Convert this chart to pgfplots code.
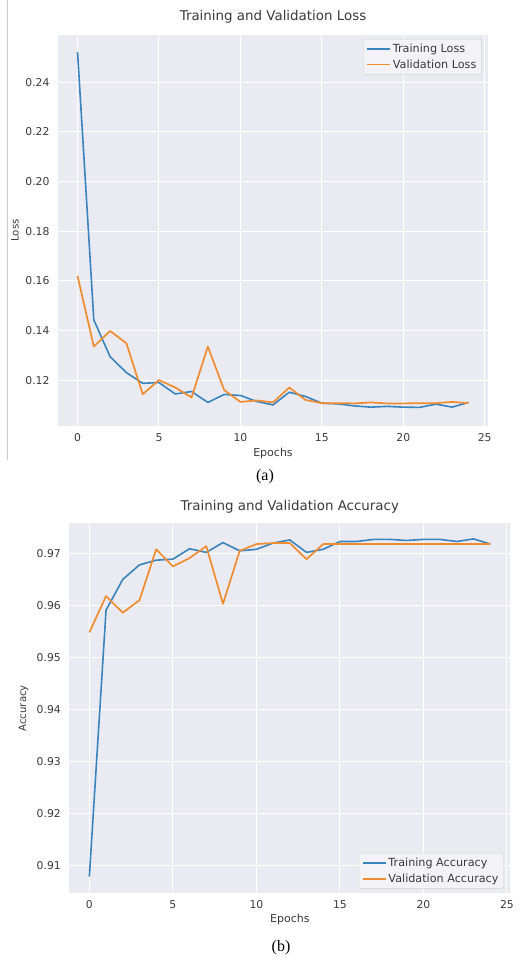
\documentclass[border=0pt]{standalone}
\usepackage{fontspec}
\setmainfont{DejaVu Sans}
\newfontfamily\capfont{Liberation Serif}
\usepackage{pgfplots}
\pgfplotsset{compat=1.18}

\definecolor{bgc}{HTML}{EAEAF2}
\definecolor{txt}{HTML}{3A3A3A}
\definecolor{tblue}{HTML}{3A84BE}
\definecolor{torange}{HTML}{F08C30}

\pgfplotsset{
  sea/.style={
    scale only axis,
    axis background/.style={fill=bgc},
    axis line style={draw=none},
    grid=major,
    major grid style={white, line width=1pt},
    major tick length=0pt,
    tick label style={font=\fontsize{10.8}{12}\selectfont, text=txt},
    /pgf/number format/assume math mode=true,
    xmin=-1.2, xmax=25.2,
    xtick={0,5,...,25},
    xticklabel style={yshift=-4pt},
    yticklabel style={xshift=-5pt, /pgf/number format/.cd, fixed, fixed zerofill, precision=2},
    label style={text=txt},
    xlabel={Epochs},
    xlabel style={font=\fontsize{11}{12}\selectfont},
    ylabel style={font=\fontsize{10.2}{12}\selectfont},
    title style={font=\fontsize{13.4}{15}\selectfont, text=txt},
    legend cell align=left,
    legend style={font=\fontsize{11.2}{13}\selectfont, text=txt, fill=bgc!60!white,
      draw=gray!35, rounded corners=1.5pt, row sep=1.5pt, inner sep=3pt},
    legend image code/.code={\draw[#1] (0cm,0cm) -- (0.8cm,0cm);},
  }
}

\begin{document}
\begin{tikzpicture}
\useasboundingbox (0pt,0pt) rectangle (531pt,-961pt);
\draw[gray!40, line width=0.8pt] (7pt,0pt) -- (7pt,-460pt);

% (a) loss
\begin{axis}[sea,
  at={(58pt,-426pt)}, anchor=south west,
  width=430pt, height=391pt,
  ymin=0.1015, ymax=0.2590,
  ytick={0.12,0.14,...,0.241},
  title={Training and Validation Loss},
  title style={at={(0.5,1)}, anchor=center, yshift=12pt},
  xlabel style={at={(0.5,0)}, anchor=center, yshift=-27pt},
  ylabel={Loss},
  ylabel style={at={(-0.1,0.5)}, anchor=center},
  legend style={at={(0.985,0.99)}, anchor=north east},
]
\addplot[tblue, line width=1.6pt, line join=round] coordinates {
(0,0.2521) (1,0.1442) (2,0.1294) (3,0.1230) (4,0.1187) (5,0.1190)
(6,0.1144) (7,0.1154) (8,0.1110) (9,0.1142) (10,0.1138) (11,0.1114)
(12,0.1100) (13,0.1151) (14,0.1134) (15,0.1107) (16,0.1104) (17,0.1096)
(18,0.1091) (19,0.1094) (20,0.1091) (21,0.1090) (22,0.1103) (23,0.1091) (24,0.1110)
};
\addplot[torange, line width=1.7pt, line join=round] coordinates {
(0,0.1619) (1,0.1335) (2,0.1398) (3,0.1348) (4,0.1143) (5,0.1200)
(6,0.1170) (7,0.1130) (8,0.1335) (9,0.1160) (10,0.1112) (11,0.1118)
(12,0.1110) (13,0.1170) (14,0.1120) (15,0.1107) (16,0.1107) (17,0.1106)
(18,0.1110) (19,0.1106) (20,0.1106) (21,0.1107) (22,0.1107) (23,0.1112) (24,0.1107)
};
\legend{Training Loss, Validation Loss}
\end{axis}

% (b) accuracy
\begin{axis}[sea,
  at={(69.3pt,-893.3pt)}, anchor=south west,
  width=441pt, height=370pt,
  ymin=0.9047, ymax=0.9759,
  ytick={0.91,0.92,...,0.971},
  title={Training and Validation Accuracy},
  title style={at={(0.5,1)}, anchor=center, yshift=10.5pt},
  xlabel style={at={(0.5,0)}, anchor=center, yshift=-26pt},
  ylabel={Accuracy},
  ylabel style={at={(-0.104,0.5)}, anchor=center},
  legend style={at={(0.985,0.012)}, anchor=south east},
]
\addplot[tblue, line width=1.6pt, line join=round] coordinates {
(0,0.9079) (1,0.9592) (2,0.9651) (3,0.9679) (4,0.9688) (5,0.9690)
(6,0.9710) (7,0.9703) (8,0.9722) (9,0.9706) (10,0.9709) (11,0.9721)
(12,0.9727) (13,0.9703) (14,0.9709) (15,0.9724) (16,0.9724) (17,0.9728)
(18,0.9728) (19,0.9726) (20,0.9728) (21,0.9728) (22,0.9724) (23,0.9729) (24,0.9719)
};
\addplot[torange, line width=1.7pt, line join=round] coordinates {
(0,0.9549) (1,0.9619) (2,0.9587) (3,0.9611) (4,0.9709) (5,0.9676)
(6,0.9692) (7,0.9715) (8,0.9604) (9,0.9706) (10,0.9719) (11,0.9721)
(12,0.9721) (13,0.9690) (14,0.9719) (15,0.9719) (16,0.9719) (17,0.9719)
(18,0.9719) (19,0.9719) (20,0.9719) (21,0.9719) (22,0.9719) (23,0.9719) (24,0.9719)
};
\legend{Training Accuracy, Validation Accuracy}
\end{axis}

\node[font=\capfont\fontsize{16}{18}\selectfont] at (265pt,-477pt) {(a)};
\node[font=\capfont\fontsize{16}{18}\selectfont] at (281pt,-948pt) {(b)};
\end{tikzpicture}
\end{document}
